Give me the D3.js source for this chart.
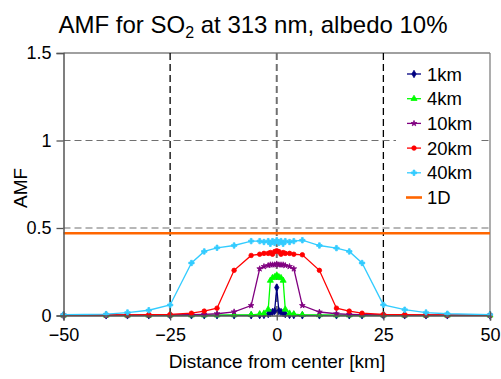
<!DOCTYPE html>
<html><head><meta charset="utf-8">
<script src="https://cdn.jsdelivr.net/npm/d3@7"></script>
<style>
body{margin:0;background:#fff;}
svg text{font-family:"Liberation Sans",Arial,sans-serif;fill:#000;}
</style></head>
<body><svg id="c" width="501" height="379"></svg>
<script>
const xs = [-50,-40,-35,-30,-25,-20,-17,-14,-10,-6,-4,-3,-2,-1.5,-1,-0.5,0,0.5,1,1.5,2,3,4,6,10,14,17,20,25,30,35,40,50];
const km1  = [0.001,0.001,0.001,0.001,0.001,0.001,0.001,0.001,0.001,0.001,0.002,0.003,0.008,0.015,0.02,0.025,0.16,0.025,0.02,0.015,0.008,0.003,0.002,0.001,0.001,0.001,0.001,0.001,0.001,0.001,0.001,0.001,0.001];
const km4  = [0.001,0.001,0.001,0.001,0.002,0.002,0.002,0.002,0.003,0.004,0.008,0.012,0.035,0.2,0.215,0.22,0.23,0.22,0.215,0.2,0.035,0.012,0.008,0.004,0.003,0.002,0.002,0.002,0.002,0.001,0.001,0.001,0.001];
const km10 = [0.002,0.002,0.002,0.002,0.003,0.005,0.007,0.01,0.021,0.057,0.267,0.28,0.286,0.29,0.29,0.29,0.295,0.29,0.29,0.29,0.286,0.28,0.267,0.057,0.02,0.01,0.007,0.005,0.003,0.002,0.002,0.002,0.002];
const km20 = [0.002,0.003,0.004,0.005,0.006,0.013,0.025,0.042,0.258,0.343,0.35,0.355,0.355,0.36,0.35,0.365,0.37,0.365,0.35,0.36,0.355,0.355,0.35,0.347,0.258,0.042,0.025,0.013,0.006,0.005,0.004,0.003,0.002];
const km40 = [0.005,0.008,0.017,0.03,0.06,0.3,0.366,0.387,0.4,0.425,0.425,0.42,0.425,0.41,0.425,0.415,0.43,0.415,0.425,0.41,0.425,0.42,0.425,0.43,0.4,0.385,0.366,0.3,0.061,0.033,0.017,0.01,0.005];
const amf1D = 0.47;
const seriesNames = ["1km","4km","10km","20km","40km"];
const seriesVals = [km1,km4,km10,km20,km40];
const seriesColors = ["#000080","#00ff00","#800080","#ff0000","#33ccff"];
const seriesSymbols = [d3.symbolDiamond,d3.symbolTriangle,d3.symbolStar,d3.symbolCircle,d3.symbolCross];
const seriesSizes = [16,16,10,16,16];
const xTicks = [-50,-25,0,25,50];
const yTicks = [0,0.5,1,1.5];

const svg = d3.select("#c");
const x = d3.scaleLinear().domain([-50,50]).range([63.5,490]);
const y = d3.scaleLinear().domain([0,1.5]).range([315.5,53]);

// title
const t = svg.append("text").attr("x",253).attr("y",33).attr("text-anchor","middle").style("font-size","24px");
t.append("tspan").text("AMF for SO");
t.append("tspan").attr("dy",5).style("font-size","16px").text("2");
t.append("tspan").attr("dy",-5).text(" at 313 nm, albedo 10%");

// frame
svg.append("line").attr("x1",x(-50)).attr("x2",x(50)).attr("y1",y(1.5)).attr("y2",y(1.5)).attr("stroke","#808080").attr("stroke-width",1.3);
svg.append("line").attr("x1",x(50)).attr("x2",x(50)).attr("y1",y(1.5)).attr("y2",y(0)).attr("stroke","#808080").attr("stroke-width",1.3);
// horizontal grid
svg.selectAll(".hg").data([0.5,1]).enter().append("line")
  .attr("x1",x(-50)).attr("x2",x(50)).attr("y1",d=>y(d)).attr("y2",d=>y(d))
  .attr("stroke","#707070").attr("stroke-width",1.2).attr("stroke-dasharray","7,4");
// vertical grid
svg.selectAll(".vg").data([-25,0,25]).enter().append("line")
  .attr("x1",d=>x(d)).attr("x2",d=>x(d)).attr("y1",y(1.5)).attr("y2",y(0))
  .attr("stroke",d=>d===0?"#707070":"#000").attr("stroke-width",d=>d===0?2:1.3).attr("stroke-dasharray","7,4");

// 1D line
svg.append("line").attr("x1",x(-50)).attr("x2",x(50)).attr("y1",y(amf1D)).attr("y2",y(amf1D))
  .attr("stroke","#ff6600").attr("stroke-width",2.6);

// series
const line = d3.line().x((d,i)=>x(xs[i])).y(d=>y(d));
seriesVals.forEach((vals,k)=>{
  svg.append("path").attr("d",line(vals)).attr("fill","none").attr("stroke",seriesColors[k]).attr("stroke-width",1.3);
  svg.selectAll(".m"+k).data(vals).enter().append("path")
    .attr("transform",(d,i)=>`translate(${x(xs[i])},${y(d)})`)
    .attr("d",d3.symbol().type(seriesSymbols[k]).size(seriesSizes[k]))
    .attr("fill",seriesColors[k]).attr("stroke",seriesColors[k]).attr("stroke-width",0.8);
});

// axes
const yAxis = d3.axisLeft(y).tickValues(yTicks).tickSize(7).tickPadding(5).tickFormat(d=>d3.format("")(d));
const ga = svg.append("g").attr("transform",`translate(${x(-50)},0)`).call(yAxis);
ga.select(".domain").attr("stroke","#555").attr("stroke-width",1.5);
ga.selectAll(".tick line").attr("stroke","#555").attr("stroke-width",1.3);
ga.selectAll("text").style("font-size","18px").attr("font-family","Liberation Sans, Arial, sans-serif").attr("fill","#000");

const xAxis = d3.axisBottom(x).tickValues(xTicks).tickSize(5).tickPadding(8);
const gx = svg.append("g").attr("transform",`translate(0,${y(0)})`).call(xAxis);
gx.select(".domain").attr("stroke","#555").attr("stroke-width",1.5);
gx.selectAll(".tick line").attr("stroke","#555").attr("stroke-width",1.3).attr("y1",-4);
gx.selectAll("text").style("font-size","18px").attr("font-family","Liberation Sans, Arial, sans-serif").attr("fill","#000");

svg.append("text").attr("x",277).attr("y",368).attr("text-anchor","middle").style("font-size","19px").text("Distance from center [km]");
svg.append("text").attr("transform","translate(27,188) rotate(-90)").attr("text-anchor","middle").style("font-size","19px").text("AMF");

// legend
const lg = svg.append("g");
lg.append("rect").attr("x",396).attr("y",62).attr("width",82).attr("height",150).attr("fill","#fff");
const legNames = seriesNames.concat(["1D"]);
legNames.forEach((n,i)=>{
  const cy = 74 + i*24.7;
  if(i<5){
    lg.append("line").attr("x1",407).attr("x2",421).attr("y1",cy).attr("y2",cy).attr("stroke",seriesColors[i]).attr("stroke-width",1.3);
    lg.append("path").attr("transform",`translate(414,${cy})`).attr("d",d3.symbol().type(seriesSymbols[i]).size(seriesSizes[i])).attr("fill",seriesColors[i]).attr("stroke",seriesColors[i]).attr("stroke-width",0.8);
  } else {
    lg.append("line").attr("x1",406).attr("x2",422).attr("y1",cy).attr("y2",cy).attr("stroke","#ff6600").attr("stroke-width",2.6);
  }
  lg.append("text").attr("x",427).attr("y",cy+6.5).style("font-size","18.5px").text(n);
});
</script></body></html>
